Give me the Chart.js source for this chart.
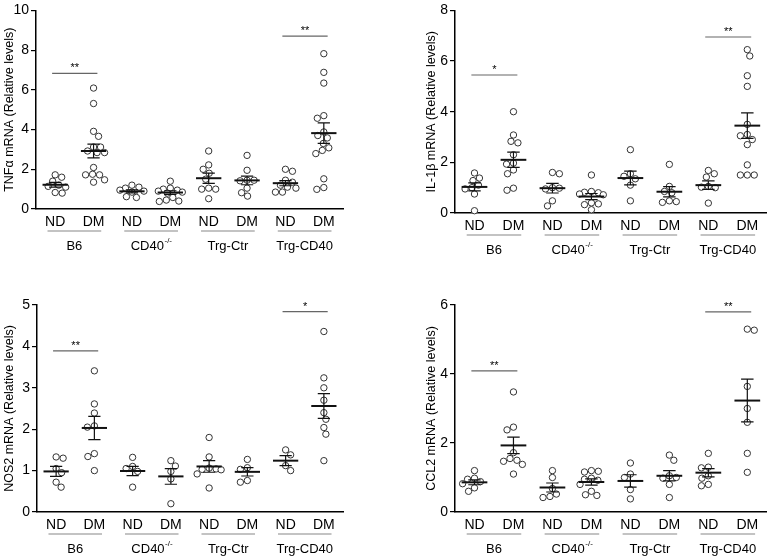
<!DOCTYPE html>
<html><head><meta charset="utf-8">
<script src="https://cdn.jsdelivr.net/npm/chart.js@4"></script>
<style>
html,body{margin:0;padding:0;background:#fff;}
body{width:771px;height:558px;position:relative;overflow:hidden;font-family:"Liberation Sans",Arial,sans-serif;}
.p{position:absolute;}
</style></head><body>
<div class="p" style="left:0px;top:0px;width:385px;height:265px"><canvas id="c1"></canvas></div>
<div class="p" style="left:422px;top:0px;width:349px;height:265px"><canvas id="c2"></canvas></div>
<div class="p" style="left:0px;top:290px;width:385px;height:268px"><canvas id="c3"></canvas></div>
<div class="p" style="left:422px;top:290px;width:349px;height:268px"><canvas id="c4"></canvas></div>
<script>
// ---------- data ----------
const categories = ['ND','DM','ND','DM','ND','DM','ND','DM'];
const groups = ['B6','CD40','Trg-Ctr','Trg-CD40'];
const groupSup = ['','-/-','',''];

const tnfValues = [
  [1.72,1.6,1.4,1.2,1.14,1.1,0.83,0.8],
  [6.09,5.31,3.91,3.66,3.12,3.12,2.92,2.84,2.84,2.09,1.75,1.72,1.72,1.47,1.35],
  [1.2,1.1,1.05,0.95,0.9,0.85,0.62,0.58],
  [1.4,1.05,1.0,0.95,0.9,0.85,0.8,0.58,0.45,0.4,0.38],
  [2.92,2.22,2.0,1.8,1.5,1.05,1.0,1.0,0.52],
  [2.7,1.95,1.45,1.45,1.42,1.05,0.82,0.65],
  [2.0,1.9,1.45,1.35,1.2,1.1,1.05,0.85,0.85],
  [7.82,6.88,6.34,4.70,4.57,3.88,3.70,3.58,3.3,3.08,2.95,2.79,1.52,1.08,0.99]
];
const tnfMean = [1.22,2.92,0.89,0.83,1.55,1.44,1.30,3.82];
const tnfSem  = [0.12,0.35,0.08,0.09,0.26,0.22,0.13,0.52];
const tnfSigY = [6.83,8.7];
const tnfSigText = ['**','**'];

const il1Values = [
  [1.58,1.38,1.28,1.1,1.0,0.95,0.75,0.09],
  [4.0,3.08,2.83,2.77,2.3,1.97,1.93,1.7,1.55,0.98,0.9],
  [1.6,1.55,1.0,0.98,0.95,0.48,0.28],
  [1.5,0.85,0.82,0.8,0.75,0.72,0.4,0.36,0.33,0.13],
  [2.5,1.55,1.45,1.35,1.1,0.48],
  [1.92,1.05,0.85,0.8,0.48,0.42,0.45],
  [1.68,1.55,1.42,1.05,1.0,1.02,0.39],
  [6.45,6.2,5.42,5.0,3.5,3.1,3.05,2.9,2.7,1.9,1.5,1.5,1.5]
];
const il1Mean = [1.03,2.10,0.98,0.65,1.38,0.84,1.10,3.45];
const il1Sem  = [0.16,0.30,0.19,0.12,0.27,0.20,0.17,0.50];
const il1SigY = [5.45,6.95];
const il1SigText = ['*','**'];

const nosValues = [
  [1.33,1.3,1.05,0.95,0.72,0.6],
  [3.41,2.61,2.39,2.08,2.05,1.41,1.34,1.0],
  [1.32,1.1,1.05,0.98,0.6],
  [1.24,1.11,0.98,0.8,0.2],
  [1.8,1.33,1.06,1.04,1.03,1.02,0.92,0.58],
  [1.27,1.07,1.03,0.76,0.72],
  [1.5,1.38,1.12,1.0],
  [4.36,3.24,3.0,2.7,2.4,2.24,2.04,1.88,1.24]
];
const nosMean = [0.98,2.03,0.99,0.86,1.10,0.97,1.24,2.56];
const nosSem  = [0.12,0.28,0.11,0.19,0.14,0.10,0.12,0.30];
const nosSigY = [3.89,4.84];
const nosSigText = ['**','*'];

const ccl2Values = [
  [1.2,0.98,0.95,0.88,0.82,0.7,0.6],
  [3.48,2.46,2.38,1.72,1.55,1.5,1.47,1.38,1.1],
  [1.2,1.0,0.68,0.52,0.45,0.42],
  [1.2,1.18,1.16,0.98,0.95,0.92,0.8,0.6,0.5,0.48],
  [1.42,1.1,1.0,0.65,0.38],
  [1.65,1.5,1.05,1.0,0.98,0.8,0.42],
  [1.7,1.3,1.28,1.05,0.98,0.8,0.76],
  [5.3,5.27,3.64,3.0,2.6,1.7,1.15]
];
const ccl2Mean = [0.86,1.93,0.71,0.87,0.90,1.05,1.14,3.23];
const ccl2Sem  = [0.07,0.24,0.13,0.09,0.18,0.15,0.12,0.62];
const ccl2SigY = [4.09,5.8];
const ccl2SigText = ['**','**'];

const sigPairs = [[0,1],[6,7]];

// ---------- panels ----------
const panels = [
  {id:'c1', title:'TNF\u03B1 mRNA (Relative levels)', values:tnfValues, mean:tnfMean, sem:tnfSem, yMax:10, yStep:2, sigY:tnfSigY, sigText:tnfSigText,
   yW:36, padTop:7, padRight:42, xH:56},
  {id:'c2', title:'IL-1\u03B2 mRNA (Relative levels)', values:il1Values, mean:il1Mean, sem:il1Sem, yMax:8, yStep:2, sigY:il1SigY, sigText:il1SigText,
   yW:33, padTop:7, padRight:1, xH:52},
  {id:'c3', title:'NOS2 mRNA (Relative levels)', values:nosValues, mean:nosMean, sem:nosSem, yMax:5, yStep:1, sigY:nosSigY, sigText:nosSigText,
   yW:37, padTop:15, padRight:42, xH:46},
  {id:'c4', title:'CCL2 mRNA (Relative levels)', values:ccl2Values, mean:ccl2Mean, sem:ccl2Sem, yMax:6, yStep:2, sigY:ccl2SigY, sigText:ccl2SigText,
   yW:33, padTop:15, padRight:1, xH:46}
];

const FONT = '"Liberation Sans", Arial, sans-serif';

// beeswarm spreading (pixel offsets, limited width, overlap allowed)
function swarm(vals, pxY, D, maxOff){
  const order = vals.map((v,i)=>i).sort((a,b)=>vals[b]-vals[a]);
  const placed = [];
  const off = new Array(vals.length).fill(0);
  order.forEach((i,n)=>{
    const y = vals[i]*pxY;
    const pref = n%2 ? 1 : -1;
    let best = null, bestScore = Infinity;
    for (let k=0;k<=Math.round(maxOff*4);k++){
      const cand = k===0 ? 0 : (k%2 ? pref : -pref)*Math.ceil(k/2)*0.5;
      if (Math.abs(cand) > maxOff) break;
      let minD = Infinity;
      placed.forEach(p=>{ const d = Math.hypot(p.x-cand, p.y-y); if (d<minD) minD=d; });
      if (minD >= D) { best=cand; break; }
      const score = -minD;
      if (score < bestScore) { bestScore = score; best = cand; }
    }
    off[i]=best; placed.push({x:best,y:y});
  });
  return off;
}

const overlay = {
  id:'overlay',
  afterDatasetsDraw(chart){
    const P = chart.options.plugins.overlay.panel;
    const xs = chart.scales.x, ys = chart.scales.y, ctx = chart.ctx;
    ctx.save();
    ctx.strokeStyle = '#111';
    P.mean.forEach((m,i)=>{
      const s = P.sem[i];
      ctx.lineWidth = 1.2;
      ctx.beginPath();
      ctx.moveTo(xs.getPixelForValue(i), ys.getPixelForValue(m+s));
      ctx.lineTo(xs.getPixelForValue(i), ys.getPixelForValue(m-s));
      [m+s, m-s].forEach(v=>{
        ctx.moveTo(xs.getPixelForValue(i-0.16), ys.getPixelForValue(v));
        ctx.lineTo(xs.getPixelForValue(i+0.16), ys.getPixelForValue(v));
      });
      ctx.stroke();
      ctx.lineWidth = 2;
      ctx.beginPath();
      ctx.moveTo(xs.getPixelForValue(i-0.33), ys.getPixelForValue(m));
      ctx.lineTo(xs.getPixelForValue(i+0.33), ys.getPixelForValue(m));
      ctx.stroke();
    });
    ctx.restore();
  },
  afterDraw(chart){
    const P = chart.options.plugins.overlay.panel;
    const xs = chart.scales.x, ys = chart.scales.y, ctx = chart.ctx;
    const base = chart.chartArea.bottom;
    ctx.save();
    sigPairs.forEach((pr,k)=>{
      const y = ys.getPixelForValue(P.sigY[k]);
      ctx.strokeStyle = '#666'; ctx.lineWidth = 1.2;
      ctx.beginPath();
      ctx.moveTo(xs.getPixelForValue(pr[0]-0.08), y);
      ctx.lineTo(xs.getPixelForValue(pr[1]+0.1), y);
      ctx.stroke();
      ctx.fillStyle = '#000'; ctx.font = '11px '+FONT;
      ctx.textAlign = 'center'; ctx.textBaseline = 'alphabetic';
      ctx.fillText(P.sigText[k], xs.getPixelForValue((pr[0]+pr[1])/2+0.01), y-2);
    });
    groups.forEach((g,k)=>{
      const c = 2*k+0.5;
      ctx.strokeStyle = '#888'; ctx.lineWidth = 1.2;
      ctx.beginPath();
      ctx.moveTo(xs.getPixelForValue(c-0.7), base+22);
      ctx.lineTo(xs.getPixelForValue(c+0.7), base+22);
      ctx.stroke();
      ctx.fillStyle = '#000';
      ctx.font = '13px '+FONT;
      const w1 = ctx.measureText(g).width;
      ctx.font = '8px '+FONT;
      const w2 = groupSup[k] ? ctx.measureText(groupSup[k]).width : 0;
      const x0 = xs.getPixelForValue(c) - (w1+w2)/2;
      ctx.textAlign = 'left'; ctx.textBaseline = 'middle';
      ctx.font = '13px '+FONT;
      ctx.fillText(g, x0, base+37);
      if (groupSup[k]) { ctx.font = '8px '+FONT; ctx.fillText(groupSup[k], x0+w1+0.5, base+32); }
    });
    ctx.restore();
  }
};

panels.forEach(P=>{
  const ds = {
    data: [],
    pointRadius: 3.2, pointHoverRadius: 3.2,
    pointBorderWidth: 1, borderColor:'#333', backgroundColor:'#fff',
    pointBorderColor:'#333', pointBackgroundColor:'#fff',
    showLine:false, clip:false
  };
  const chart = new Chart(document.getElementById(P.id), {
    type:'scatter',
    data:{datasets:[ds]},
    options:{
      responsive:true, maintainAspectRatio:false, animation:false,
      layout:{padding:{top:P.padTop, right:P.padRight, left:0, bottom:0}},
      plugins:{legend:{display:false}, tooltip:{enabled:false}, overlay:{panel:P}},
      scales:{
        x:{type:'linear', min:-0.5, max:7.5,
           afterBuildTicks: s => { s.ticks = categories.map((c,i)=>({value:i})); },
           afterFit: s => { s.height = P.xH; },
           grid:{display:false, drawTicks:false},
           border:{display:true, color:'#000', width:1.5},
           ticks:{autoSkip:false, maxRotation:0, padding:5, color:'#000', font:{family:FONT, size:14},
                  callback: v => categories[v]}},
        y:{type:'linear', min:0, max:P.yMax,
           afterFit: s => { s.width = P.yW; },
           grid:{display:true, drawOnChartArea:false, drawTicks:true, tickLength:5, color:'#000', lineWidth:1.2},
           border:{display:true, color:'#000', width:1.5},
           ticks:{stepSize:P.yStep, padding:2, color:'#000', font:{family:FONT, size:14}},
           title:{display:true, text:P.title, color:'#000', font:{family:FONT, size:12.5}, padding:{top:2, bottom:0}}}
      }
    },
    plugins:[overlay]
  });
  const xs = chart.scales.x, ys = chart.scales.y;
  const pxY = ys.getPixelForValue(0) - ys.getPixelForValue(1);
  const pxX = xs.getPixelForValue(1) - xs.getPixelForValue(0);
  const pts = [];
  P.values.forEach((vals,i)=>{
    const off = swarm(vals, pxY, 6.8, 12);
    vals.forEach((v,j)=> pts.push({x: i + off[j]/pxX, y: v}));
  });
  chart.data.datasets[0].data = pts;
  chart.update('none');
});
</script>
</body></html>
